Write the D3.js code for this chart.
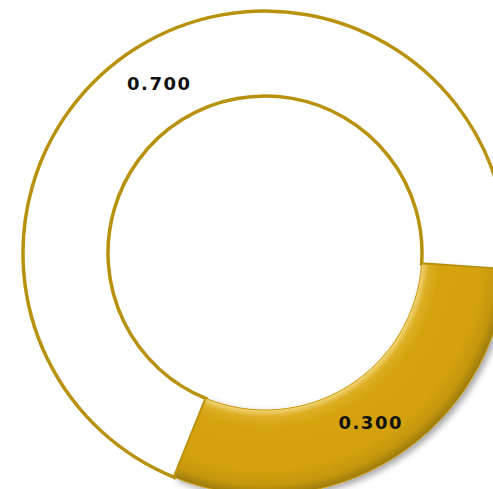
<!DOCTYPE html>
<html>
<head>
<meta charset="utf-8">
<script src="https://cdn.jsdelivr.net/npm/d3@7"></script>
<style>
  html, body { margin: 0; padding: 0; background: #ffffff; overflow: hidden; }
  svg { display: block; }
</style>
</head>
<body>
<svg id="chart" width="493" height="489"></svg>
<script>
const categories = ["A", "B"];
const values = [0.700, 0.300];
const labels = ["0.700", "0.300"];

const W = 493, H = 489;
const cx = 265, cy = 253;
const rOuter = 242, rInner = 157;

const svg = d3.select("#chart");
const defs = svg.append("defs");

// bevel gradient for gold slice
const rg = defs.append("radialGradient")
  .attr("id", "goldBevel")
  .attr("gradientUnits", "userSpaceOnUse")
  .attr("cx", 0).attr("cy", 0).attr("r", rOuter);
const f0 = rInner / rOuter;
[
  [f0, "#f2d67a"],
  [f0 + 0.03, "#dcae22"],
  [f0 + 0.08, "#d4a30d"],
  [0.90, "#d2a10b"],
  [0.96, "#c4960a"],
  [1.0, "#9c7a06"]
].forEach(([o, c]) => rg.append("stop").attr("offset", o).attr("stop-color", c));

const shadow = defs.append("filter").attr("id", "shadow")
  .attr("x", "-20%").attr("y", "-20%").attr("width", "140%").attr("height", "140%");
shadow.append("feDropShadow")
  .attr("dx", 3).attr("dy", 3).attr("stdDeviation", 3)
  .attr("flood-color", "#000").attr("flood-opacity", 0.35);

const startDeg = 202;
const pie = d3.pie().sort(null).value(d => d)
  .startAngle(startDeg * Math.PI / 180)
  .endAngle((startDeg + 360) * Math.PI / 180);
const arcs = pie(values);

const arc = d3.arc().innerRadius(rInner).outerRadius(rOuter);
const labelArc = d3.arc().innerRadius((rInner + rOuter) / 2).outerRadius((rInner + rOuter) / 2);

const g = svg.append("g").attr("transform", `translate(${cx},${cy})`);

const fills = ["#ffffff", "url(#goldBevel)"];
const strokes = ["#b8920c", "#c89a0a"];
const strokeW = [3.5, 1];

g.selectAll("path.slice")
  .data(arcs)
  .join("path")
  .attr("class", "slice")
  .attr("d", arc)
  .attr("fill", (d, i) => fills[i])
  .attr("stroke", (d, i) => strokes[i])
  .attr("stroke-width", (d, i) => strokeW[i])
  .attr("stroke-linejoin", "miter")
  .attr("filter", (d, i) => i === 1 ? "url(#shadow)" : null);

g.selectAll("text.lbl")
  .data(arcs)
  .join("text")
  .attr("class", "lbl")
  .attr("transform", d => `translate(${labelArc.centroid(d)})`)
  .attr("text-anchor", "middle")
  .attr("dominant-baseline", "central")
  .attr("font-family", "DejaVu Sans, Verdana, sans-serif")
  .attr("font-weight", "bold")
  .attr("font-size", 18)
  .attr("letter-spacing", 1.5)
  .attr("fill", "#111")
  .text((d, i) => labels[i]);
</script>
</body>
</html>
